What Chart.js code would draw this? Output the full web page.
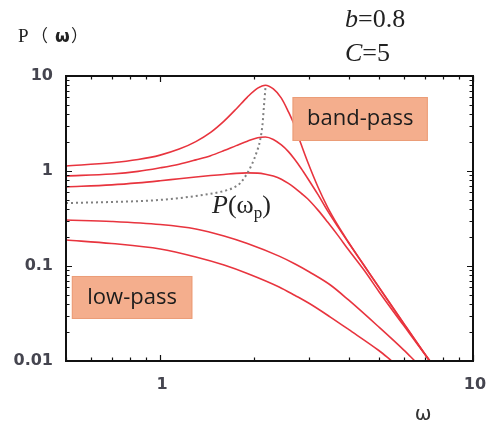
<!DOCTYPE html>
<html><head><meta charset="utf-8">
<script src="https://cdn.jsdelivr.net/npm/chart.js@4"></script>
<style>html,body{margin:0;padding:0;background:#fff;overflow:hidden}</style>
</head><body>
<canvas id="c" width="493" height="424"></canvas>
<script>
// ---- data (log-log) ----
const omegaBand = [0.5, 0.7, 0.85, 1, 1.15, 1.3, 1.45, 1.6, 1.75, 1.9, 2.05, 2.17, 2.3, 2.44, 2.57, 2.69, 2.82, 2.96, 3.2, 3.43, 3.7, 4, 4.5, 5, 6, 7, 7.3];
const curve1 = [1.13, 1.22, 1.32, 1.47, 1.70, 2.04, 2.55, 3.35, 4.5, 6.0, 7.45, 8.0, 7.3, 5.85, 4.2, 3.0, 1.92, 1.25, 0.67, 0.415, 0.267, 0.178, 0.0993, 0.0595, 0.0248, 0.0119, 0.0097];
const curve2 = [0.886, 0.93, 0.99, 1.08, 1.18, 1.31, 1.45, 1.64, 1.85, 2.06, 2.24, 2.28, 2.15, 1.88, 1.6, 1.33, 1.07, 0.84, 0.56, 0.38, 0.258, 0.176, 0.10, 0.0603, 0.025, 0.012, 0.0099];
const curve3 = [0.68, 0.715, 0.75, 0.79, 0.83, 0.865, 0.895, 0.92, 0.945, 0.955, 0.95, 0.925, 0.885, 0.82, 0.74, 0.665, 0.585, 0.51, 0.385, 0.29, 0.21, 0.148, 0.089, 0.054, 0.0237, 0.0119, 0.01];
const omegaLow4 = [0.5, 0.7, 1, 1.3, 1.6, 1.9, 2.4, 2.7, 3, 3.5, 4, 5, 6, 6.52];
const curve4 = [0.305, 0.294, 0.273, 0.245, 0.207, 0.1725, 0.127, 0.105, 0.0865, 0.0631, 0.0439, 0.0228, 0.0131, 0.01];
const omegaLow5 = [0.5, 0.7, 1, 1.3, 1.6, 1.9, 2.4, 2.7, 3, 3.5, 4, 5, 5.5];
const curve5 = [0.188, 0.1725, 0.151, 0.1244, 0.1024, 0.0834, 0.0601, 0.0489, 0.0403, 0.029, 0.0215, 0.0129, 0.01];
const omegaPeak = [0.5, 0.7, 1, 1.3, 1.6, 1.72, 1.805, 1.901, 1.972, 2.031, 2.084, 2.123, 2.148, 2.173];
const peakLocus = [0.46, 0.472, 0.496, 0.546, 0.616, 0.67, 0.748, 0.953, 1.21, 1.55, 2.07, 3.05, 4.96, 7.85];
const xTickLabels = [1, 10];
const yTickLabels = [0.01, 0.1, 1, 10];
const paramLines = [["b", "=0.8"], ["C", "=5"]];
const bandLabels = ["band-pass", "low-pass"];

const pts = (xs, ys) => xs.map((v, i) => ({x: v, y: ys[i]}));
const RED = '#e8343e';
const TICKCOL = '#45454f';

function minorTicks(lo, hi) {
  const out = [];
  for (let d = -3; d <= 1; d++) {
    const base = Math.pow(10, d);
    for (let m = 1; m <= 9; m++) {
      const v = +(m * base).toPrecision(6);
      if (v >= lo - 1e-9 && v <= hi + 1e-9) out.push({v, major: m === 1});
    }
  }
  return out;
}

const decor = {
  id: 'decor',
  afterDatasetsDraw(chart) {
    const {ctx, chartArea: a, scales: {x, y}} = chart;
    ctx.save();
    function box(x0, y0, x1, y1, label) {
      const px0 = x.getPixelForValue(x0), px1 = x.getPixelForValue(x1);
      const py0 = y.getPixelForValue(y0), py1 = y.getPixelForValue(y1);
      ctx.fillStyle = '#f4ae8d';
      ctx.strokeStyle = '#eb9d78';
      ctx.lineWidth = 1;
      ctx.fillRect(px0, py0, px1 - px0, py1 - py0);
      ctx.strokeRect(px0 + 0.5, py0 + 0.5, px1 - px0 - 1, py1 - py0 - 1);
      ctx.fillStyle = '#1c1c1c';
      ctx.font = '22px "Open Sans"';
      ctx.textAlign = 'center';
      ctx.textBaseline = 'middle';
      ctx.fillText(label, (px0 + px1) / 2, (py0 + py1) / 2);
    }
    box(2.65, 6.01, 7.17, 2.07, bandLabels[0]);
    box(0.522, 0.0785, 1.267, 0.0277, bandLabels[1]);

    ctx.strokeStyle = '#111';
    ctx.lineWidth = 2;
    ctx.strokeRect(a.left, a.top, a.right - a.left, a.bottom - a.top);
    ctx.lineWidth = 1.2;
    ctx.beginPath();
    for (const t of minorTicks(0.5, 10)) {
      const p = Math.round(x.getPixelForValue(t.v)) + 0.5;
      const L = t.major ? 6 : 3.5;
      ctx.moveTo(p, a.bottom); ctx.lineTo(p, a.bottom - L);
      ctx.moveTo(p, a.top); ctx.lineTo(p, a.top + L);
    }
    for (const t of minorTicks(0.01, 10)) {
      const p = Math.round(y.getPixelForValue(t.v)) + 0.5;
      const L = t.major ? 6 : 3.5;
      ctx.moveTo(a.left, p); ctx.lineTo(a.left + L, p);
      ctx.moveTo(a.right, p); ctx.lineTo(a.right - L, p);
    }
    ctx.stroke();

    ctx.textAlign = 'left';
    ctx.textBaseline = 'alphabetic';
    ctx.fillStyle = '#222';
    ctx.font = '19px "Liberation Serif"';
    ctx.fillText('P', 18, 42);
    ctx.font = '17px "Noto Sans CJK SC"';
    ctx.fillText('（', 31, 42);
    ctx.font = 'bold 17px "DejaVu Sans"';
    ctx.fillText('ω', 55, 42);
    ctx.font = '17px "Noto Sans CJK SC"';
    ctx.fillText('）', 71, 42);

    const base = [27, 61];
    paramLines.forEach((pl, i) => {
      let xx = 345;
      ctx.font = 'italic 26px "Liberation Serif"';
      ctx.fillText(pl[0], xx, base[i]);
      xx += ctx.measureText(pl[0]).width;
      ctx.font = '26px "Liberation Serif"';
      ctx.fillText(pl[1], xx, base[i]);
    });

    let lx = 212;
    const ly = 213;
    ctx.font = 'italic 26px "Liberation Serif"';
    ctx.fillText('P', lx, ly); lx += ctx.measureText('P').width;
    ctx.font = '26px "Liberation Serif"';
    ctx.fillText('(ω', lx, ly); lx += ctx.measureText('(ω').width;
    ctx.font = '17px "Liberation Serif"';
    ctx.fillText('p', lx, ly + 5); lx += ctx.measureText('p').width;
    ctx.font = '26px "Liberation Serif"';
    ctx.fillText(')', lx, ly);

    ctx.font = '20px "DejaVu Sans"';
    ctx.textAlign = 'center';
    ctx.fillStyle = '#333';
    ctx.fillText('ω', 423, 420);
    ctx.restore();
  }
};

const tickFont = {family: 'DejaVu Sans', weight: 'bold', size: 16};
new Chart(document.getElementById('c'), {
  type: 'line',
  data: {
    datasets: [
      {data: pts(omegaPeak, peakLocus), borderColor: '#808080', borderWidth: 2, borderDash: [2, 3]},
      {data: pts(omegaBand, curve1), borderColor: RED},
      {data: pts(omegaBand, curve2), borderColor: RED},
      {data: pts(omegaBand, curve3), borderColor: RED},
      {data: pts(omegaLow4, curve4), borderColor: RED},
      {data: pts(omegaLow5, curve5), borderColor: RED}
    ]
  },
  options: {
    responsive: false,
    animation: false,
    devicePixelRatio: 1,
    layout: {padding: {top: 76, right: 20, left: 0, bottom: 0}},
    plugins: {legend: {display: false}, tooltip: {enabled: false}},
    elements: {point: {radius: 0}, line: {cubicInterpolationMode: 'monotone', borderWidth: 1.6, fill: false}},
    scales: {
      x: {
        type: 'logarithmic', min: 0.5, max: 10,
        grid: {display: false, drawTicks: false}, border: {display: false},
        afterBuildTicks: s => { s.ticks = xTickLabels.map(v => ({value: v, major: true})); },
        ticks: {autoSkip: false, maxRotation: 0, padding: 14, labelOffset: 2, color: TICKCOL, font: tickFont, callback: v => String(v)},
        afterFit: s => { s.height = 63; s.paddingRight = 0; s.paddingLeft = 0; }
      },
      y: {
        type: 'logarithmic', min: 0.01, max: 10,
        grid: {display: false, drawTicks: false}, border: {display: false},
        afterBuildTicks: s => { s.ticks = yTickLabels.map(v => ({value: v, major: true})); },
        ticks: {autoSkip: false, padding: 13, color: TICKCOL, font: tickFont, callback: v => String(v)},
        afterFit: s => { s.width = 66; s.paddingTop = 0; s.paddingBottom = 0; }
      }
    }
  },
  plugins: [decor]
});
</script>
</body></html>
